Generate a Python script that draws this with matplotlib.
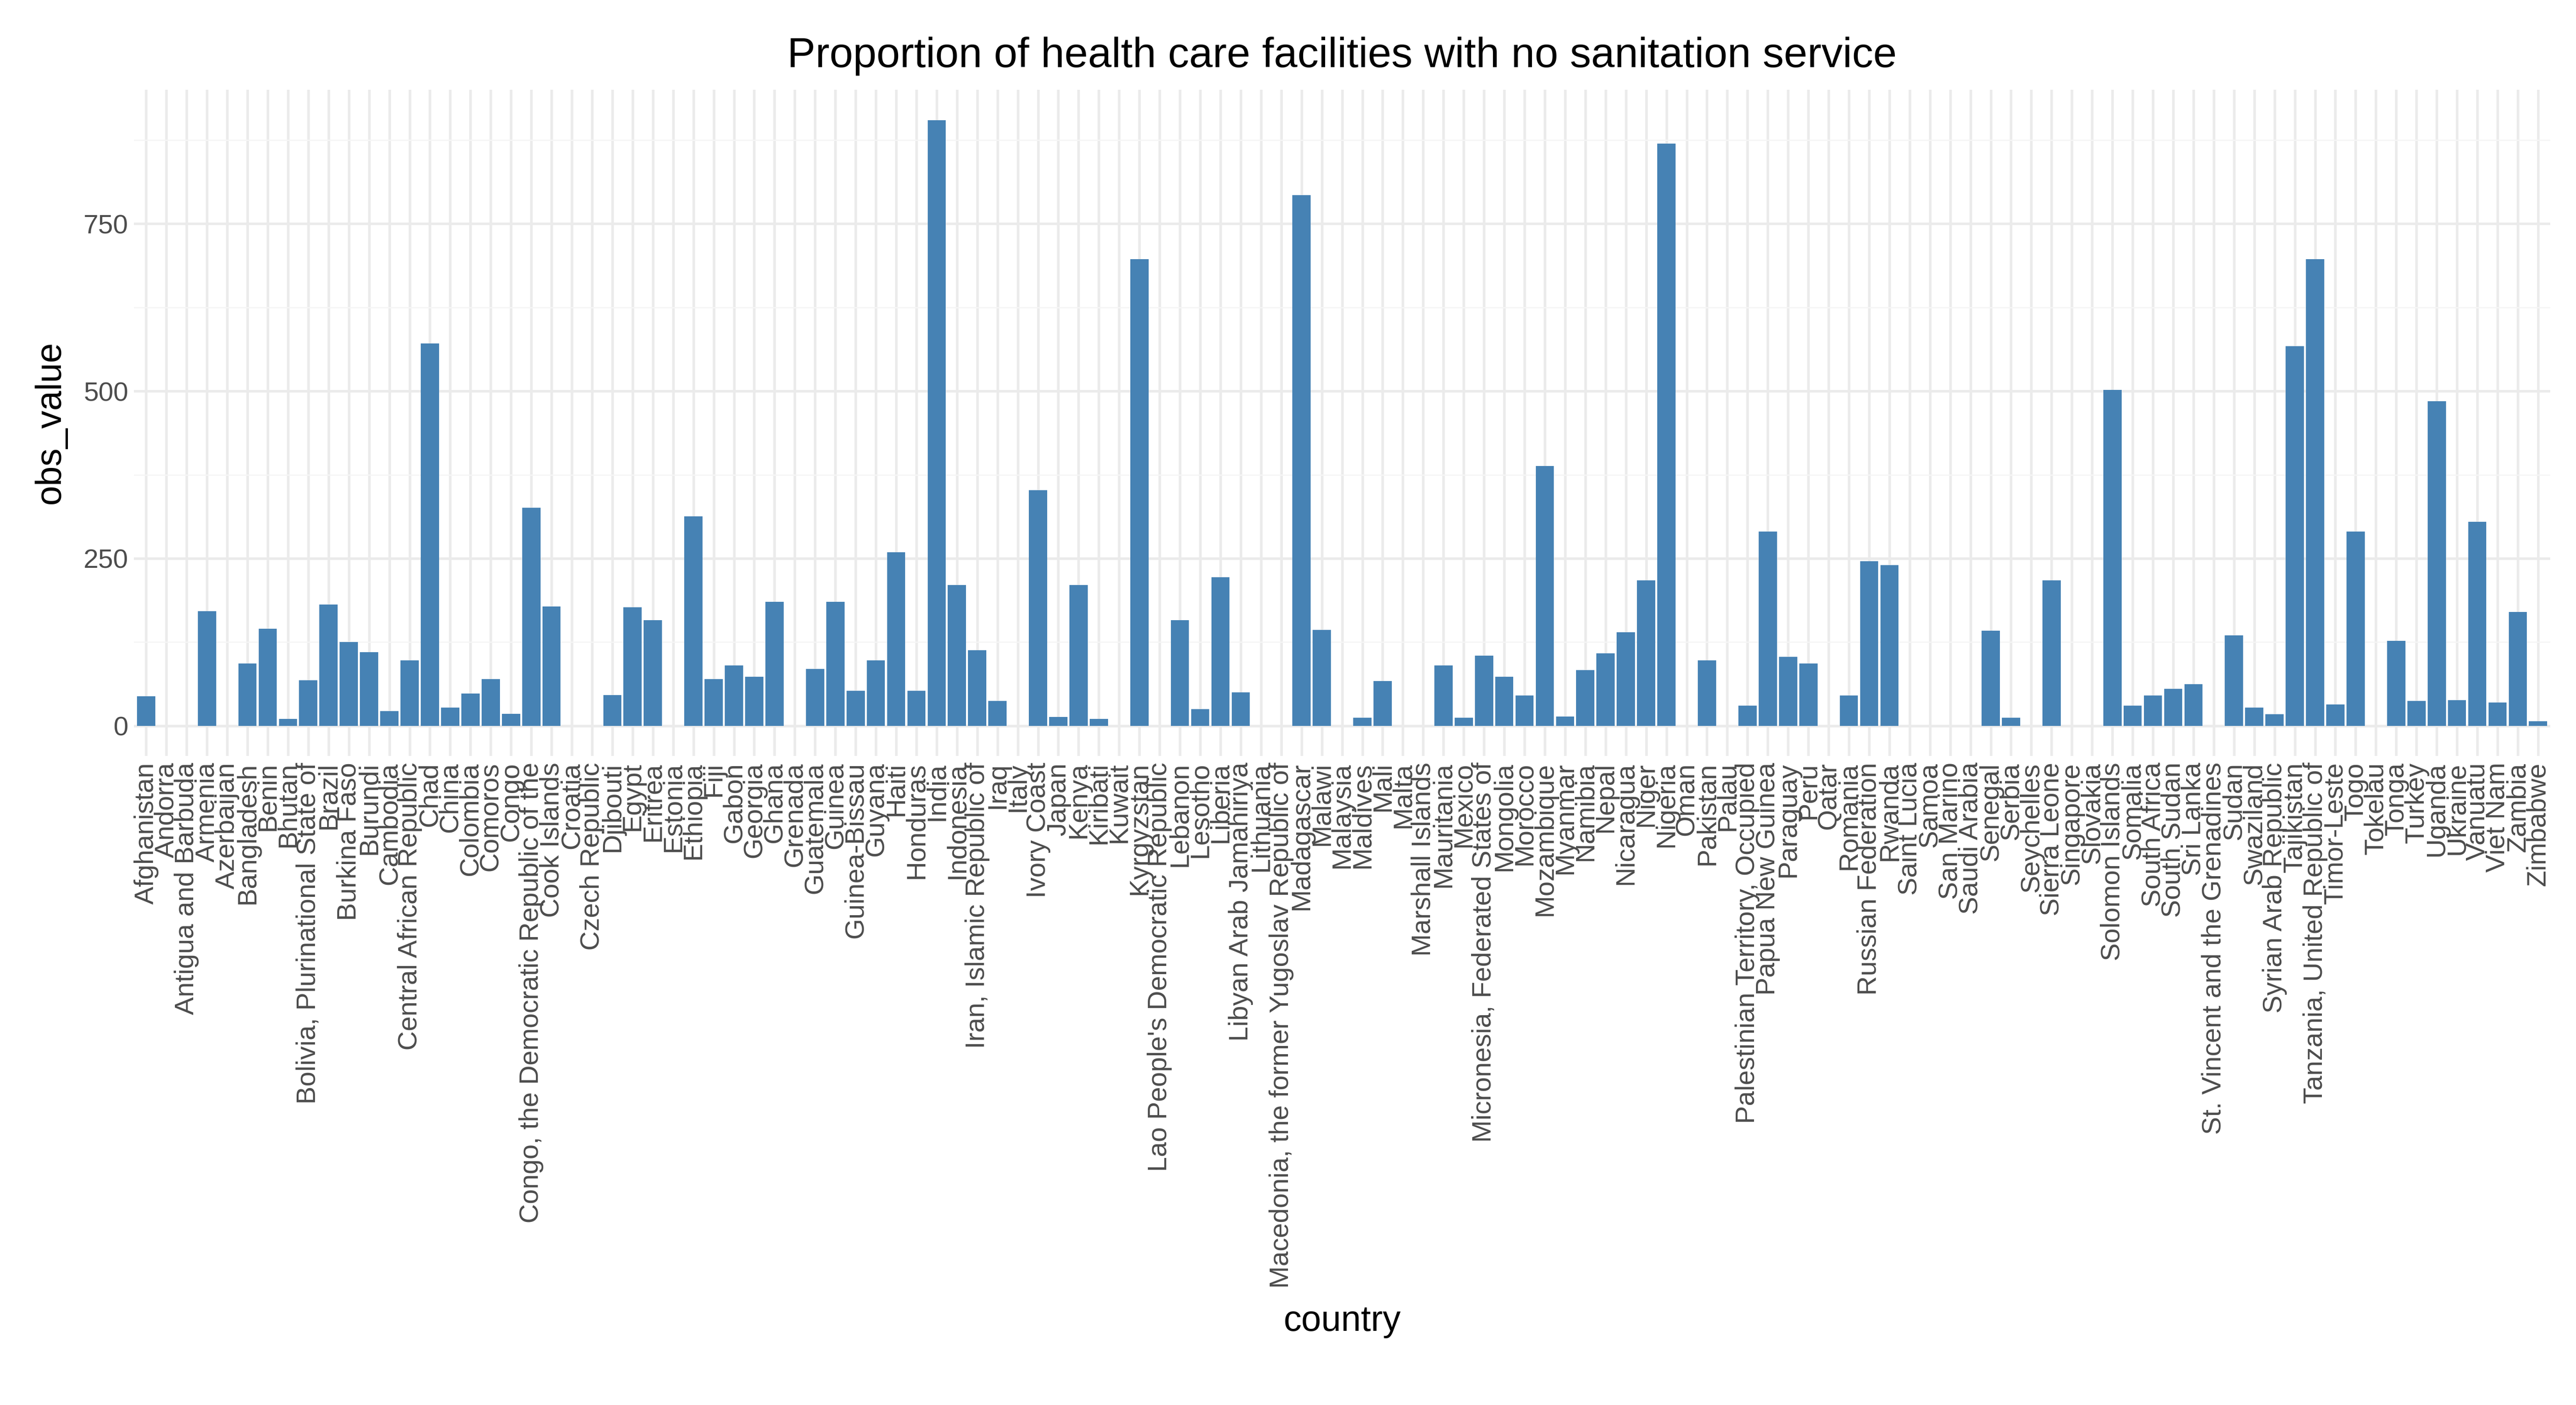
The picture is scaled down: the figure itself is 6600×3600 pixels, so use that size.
import matplotlib
matplotlib.use("Agg")
import matplotlib.pyplot as plt

countries = ["Afghanistan","Andorra","Antigua and Barbuda","Armenia","Azerbaijan","Bangladesh","Benin","Bhutan",
"Bolivia, Plurinational State of","Brazil","Burkina Faso","Burundi","Cambodia","Central African Republic","Chad","China",
"Colombia","Comoros","Congo","Congo, the Democratic Republic of the","Cook Islands","Croatia","Czech Republic","Djibouti",
"Egypt","Eritrea","Estonia","Ethiopia","Fiji","Gabon","Georgia","Ghana","Grenada","Guatemala","Guinea","Guinea-Bissau",
"Guyana","Haiti","Honduras","India","Indonesia","Iran, Islamic Republic of","Iraq","Italy","Ivory Coast","Japan","Kenya",
"Kiribati","Kuwait","Kyrgyzstan","Lao People's Democratic Republic","Lebanon","Lesotho","Liberia","Libyan Arab Jamahiriya",
"Lithuania","Macedonia, the former Yugoslav Republic of","Madagascar","Malawi","Malaysia","Maldives","Mali","Malta",
"Marshall Islands","Mauritania","Mexico","Micronesia, Federated States of","Mongolia","Morocco","Mozambique","Myanmar",
"Namibia","Nepal","Nicaragua","Niger","Nigeria","Oman","Pakistan","Palau","Palestinian Territory, Occupied",
"Papua New Guinea","Paraguay","Peru","Qatar","Romania","Russian Federation","Rwanda","Saint Lucia","Samoa","San Marino",
"Saudi Arabia","Senegal","Serbia","Seychelles","Sierra Leone","Singapore","Slovakia","Solomon Islands","Somalia",
"South Africa","South Sudan","Sri Lanka","St. Vincent and the Grenadines","Sudan","Swaziland","Syrian Arab Republic",
"Tajikistan","Tanzania, United Republic of","Timor-Leste","Togo","Tokelau","Tonga","Turkey","Uganda","Ukraine","Vanuatu",
"Viet Nam","Zambia","Zimbabwe"]

obs_value = [44,0,0,171,0,93,145,10,68,181,125,110,22,98,571,27,48,70,18,326,178,0,0,46,177,158,0,313,70,90,73,185,0,85,
185,52,98,259,52,905,210,113,37,0,352,13,210,10,0,697,0,158,25,222,50,0,0,793,143,0,12,67,0,0,90,12,105,73,45,388,14,83,
108,140,217,870,0,98,0,30,290,103,93,0,45,246,240,0,0,0,0,142,12,0,217,0,0,502,30,45,55,62,0,135,27,17,567,697,32,290,0,
127,37,485,38,305,35,170,7]

plt.rcParams['font.family'] = ['Liberation Sans', 'DejaVu Sans']
fig = plt.figure(figsize=(22, 12), dpi=300)
ax = fig.add_axes([0.052, 0.462, 0.938, 0.474])
x = list(range(len(countries)))
ax.bar(x, obs_value, width=0.9, color='#4682B4', zorder=3)
ax.set_xlim(-0.6, len(countries) - 0.4)
ax.set_ylim(-45, 950)
ax.set_yticks([0, 250, 500, 750])
ax.set_yticks([125, 375, 625, 875], minor=True)
ax.set_xticks(x)
ax.set_xticklabels(countries, rotation=90, ha='right', va='center', rotation_mode='anchor', fontsize=16.5, color='#4D4D4D')
ax.tick_params(axis='y', labelsize=16.5, labelcolor='#4D4D4D', length=0)
ax.tick_params(axis='y', which='minor', length=0)
ax.tick_params(axis='x', length=0, pad=4)
ax.grid(True, which='major', color='#EBEBEB', linewidth=1.6, zorder=0)
ax.grid(True, which='minor', axis='y', color='#F5F5F5', linewidth=0.8, zorder=0)
for s in ax.spines.values():
    s.set_visible(False)
ax.set_xlabel('country', fontsize=22, labelpad=10)
ax.set_ylabel('obs_value', fontsize=22, labelpad=10)
ax.set_title('Proportion of health care facilities with no sanitation service', fontsize=26, pad=14)
fig.savefig('out.png', dpi=300)
